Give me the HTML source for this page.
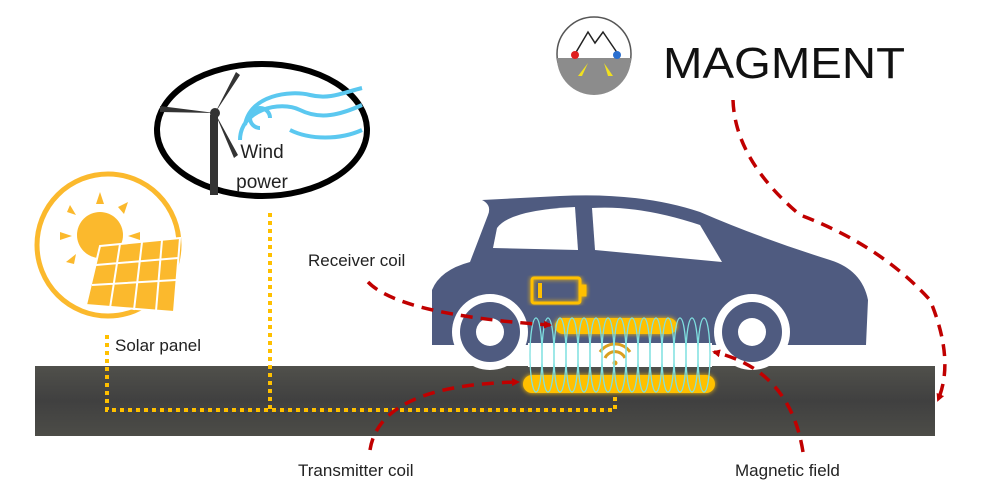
<!DOCTYPE html>
<html><head><meta charset="utf-8"><style>
body{margin:0;background:#fff;width:1000px;height:500px;overflow:hidden}
svg{display:block}
text{font-family:"Liberation Sans",sans-serif}
</style></head><body>
<svg width="1000" height="500" viewBox="0 0 1000 500">
<defs>
<filter id="glow"><feGaussianBlur stdDeviation="2.5" result="b"/><feMerge><feMergeNode in="b"/><feMergeNode in="SourceGraphic"/></feMerge></filter>
<marker id="ah" markerWidth="8" markerHeight="8" refX="6" refY="4" orient="auto" markerUnits="userSpaceOnUse"><path d="M0,0 L8,4 L0,8 z" fill="#c00000"/></marker>
<linearGradient id="rd" x1="0" y1="0" x2="0" y2="1"><stop offset="0" stop-color="#50504b"/><stop offset="0.5" stop-color="#404040"/><stop offset="1" stop-color="#4c4c47"/></linearGradient>
</defs>
<rect x="35" y="366" width="900" height="70" fill="url(#rd)"/>
<g fill="none" stroke="#ffc000" stroke-width="4" stroke-dasharray="4 4">
<path d="M270 213 V410 M107 335 V410 H615 V388"/>
<path d="M582 291 H614 V318"/>
</g>
<circle cx="108" cy="245" r="71" fill="#fff" stroke="#fbb92d" stroke-width="5"/>
<circle cx="100" cy="235" r="23" fill="#fbb92d"/>
<g fill="#fbb92d">
<path d="M70 205 l6 10 -9 -3z M100 192 l4 12 -8 0z M128 202 l-4 12 -6 -7z M60 232 l12 4 -12 4z M140 232 l-12 4 12 4z M66 262 l10 -8 -2 10z"/>
</g>
<path d="M100 246 L180 238 L174 312 L86 305 Z" fill="#fbb92d" stroke="#fff" stroke-width="2"/>
<g stroke="#fff" stroke-width="2"><path d="M96 265 L178 258 M92 285 L176 280 M120 244 L110 308 M142 242 L134 310 M162 240 L156 311"/></g>
<ellipse cx="262" cy="130" rx="105" ry="66" fill="#fff" stroke="#000" stroke-width="6"/>
<g fill="#333"><rect x="210" y="115" width="8" height="80"/><path d="M215 113 L160 112 L160 106 Z M215 113 L236 72 L240 75 Z M215 113 L238 155 L234 158 Z"/><circle cx="215" cy="113" r="5"/></g>
<g fill="none" stroke="#5bc8f0" stroke-width="4"><path d="M240 140 C240 110 280 100 300 110 S340 115 362 105"/><path d="M245 125 C250 95 290 90 310 95 S345 92 362 88"/><path d="M260 128 a10 10 0 1 1 10 -10"/><path d="M290 130 C310 140 340 140 362 130"/></g>
<text x="262" y="158" font-size="19" text-anchor="middle" fill="#222">Wind</text>
<text x="262" y="188" font-size="19" text-anchor="middle" fill="#222">power</text>
<path d="M432 330 L432 290 Q440 270 470 262 L488 215 Q492 205 482 200 L560 196 Q640 192 700 212 Q760 238 830 260 Q862 270 868 300 L866 345 L432 345 Z" fill="#4f5b80"/>
<path d="M497 228 Q510 210 575 207 L578 250 L493 248 Z" fill="#fff"/>
<path d="M592 208 Q640 205 700 225 L722 262 L595 250 Z" fill="#fff"/>
<circle cx="490" cy="332" r="38" fill="#fff"/><circle cx="490" cy="332" r="30" fill="#4f5b80"/><circle cx="490" cy="332" r="14" fill="#fff"/>
<circle cx="752" cy="332" r="38" fill="#fff"/><circle cx="752" cy="332" r="30" fill="#4f5b80"/><circle cx="752" cy="332" r="14" fill="#fff"/>
<rect x="528" y="343" width="184" height="24" fill="#fff"/>
<g filter="url(#glow)" fill="none" stroke="#ffc000" stroke-width="3"><rect x="532" y="278" width="48" height="25" rx="2"/><rect x="580" y="286" width="5" height="9" fill="#ffc000"/></g>
<rect x="538" y="283" width="4" height="15" fill="#ffc000"/>
<g filter="url(#glow)" fill="#ffc000"><rect x="555" y="318" width="122" height="16" rx="8"/><rect x="523" y="375" width="192" height="18" rx="9"/></g>
<g fill="none" stroke="#d9a020" stroke-width="3"><path d="M600 352 a18 18 0 0 1 30 0"/><path d="M605 358 a11 11 0 0 1 20 0"/></g><circle cx="615" cy="363" r="2.5" fill="#d9a020"/>
<g fill="none" stroke="#7fe0e0" stroke-width="1.3">
<ellipse cx="536" cy="355" rx="6" ry="37"/><ellipse cx="548" cy="355" rx="6" ry="37"/><ellipse cx="560" cy="355" rx="6" ry="37"/><ellipse cx="572" cy="355" rx="6" ry="37"/><ellipse cx="584" cy="355" rx="6" ry="37"/><ellipse cx="596" cy="355" rx="6" ry="37"/><ellipse cx="608" cy="355" rx="6" ry="37"/><ellipse cx="620" cy="355" rx="6" ry="37"/><ellipse cx="632" cy="355" rx="6" ry="37"/><ellipse cx="644" cy="355" rx="6" ry="37"/><ellipse cx="656" cy="355" rx="6" ry="37"/><ellipse cx="668" cy="355" rx="6" ry="37"/><ellipse cx="680" cy="355" rx="6" ry="37"/><ellipse cx="692" cy="355" rx="6" ry="37"/><ellipse cx="704" cy="355" rx="6" ry="37"/>
</g>
<g fill="none" stroke="#c00000" stroke-width="3.5" stroke-dasharray="12 8" marker-end="url(#ah)">
<path d="M368 282 Q400 315 550 325"/>
<path d="M370 450 Q380 385 518 382"/>
<path d="M803 452 Q790 370 714 352"/>
<path d="M733 100 Q735 160 800 215 Q880 245 930 300 Q955 360 938 400"/>
</g>
<g font-size="17" fill="#222">
<text x="308" y="266">Receiver coil</text>
<text x="115" y="351">Solar panel</text>
<text x="298" y="476">Transmitter coil</text>
<text x="735" y="476">Magnetic field</text>
</g>
<circle cx="594" cy="54" r="37" fill="#fff" stroke="#555" stroke-width="1.5"/>
<path d="M557 58 H631 A37 37 0 0 1 557 58 Z" fill="#8c8c8c"/>
<path d="M575 54 L588 32 L595 43 L603 32 L618 54" fill="none" stroke="#222" stroke-width="1.5"/>
<circle cx="575" cy="55" r="4" fill="#e02020"/><circle cx="617" cy="55" r="4" fill="#2a6fd0"/>
<path d="M578 76 L588 63 L582 76 Z M613 76 L604 63 L608 76 Z" fill="#f0e020"/>
<text x="663" y="78" font-size="44" fill="#111" textLength="242" lengthAdjust="spacingAndGlyphs">MAGMENT</text>
</svg>
</body></html>
